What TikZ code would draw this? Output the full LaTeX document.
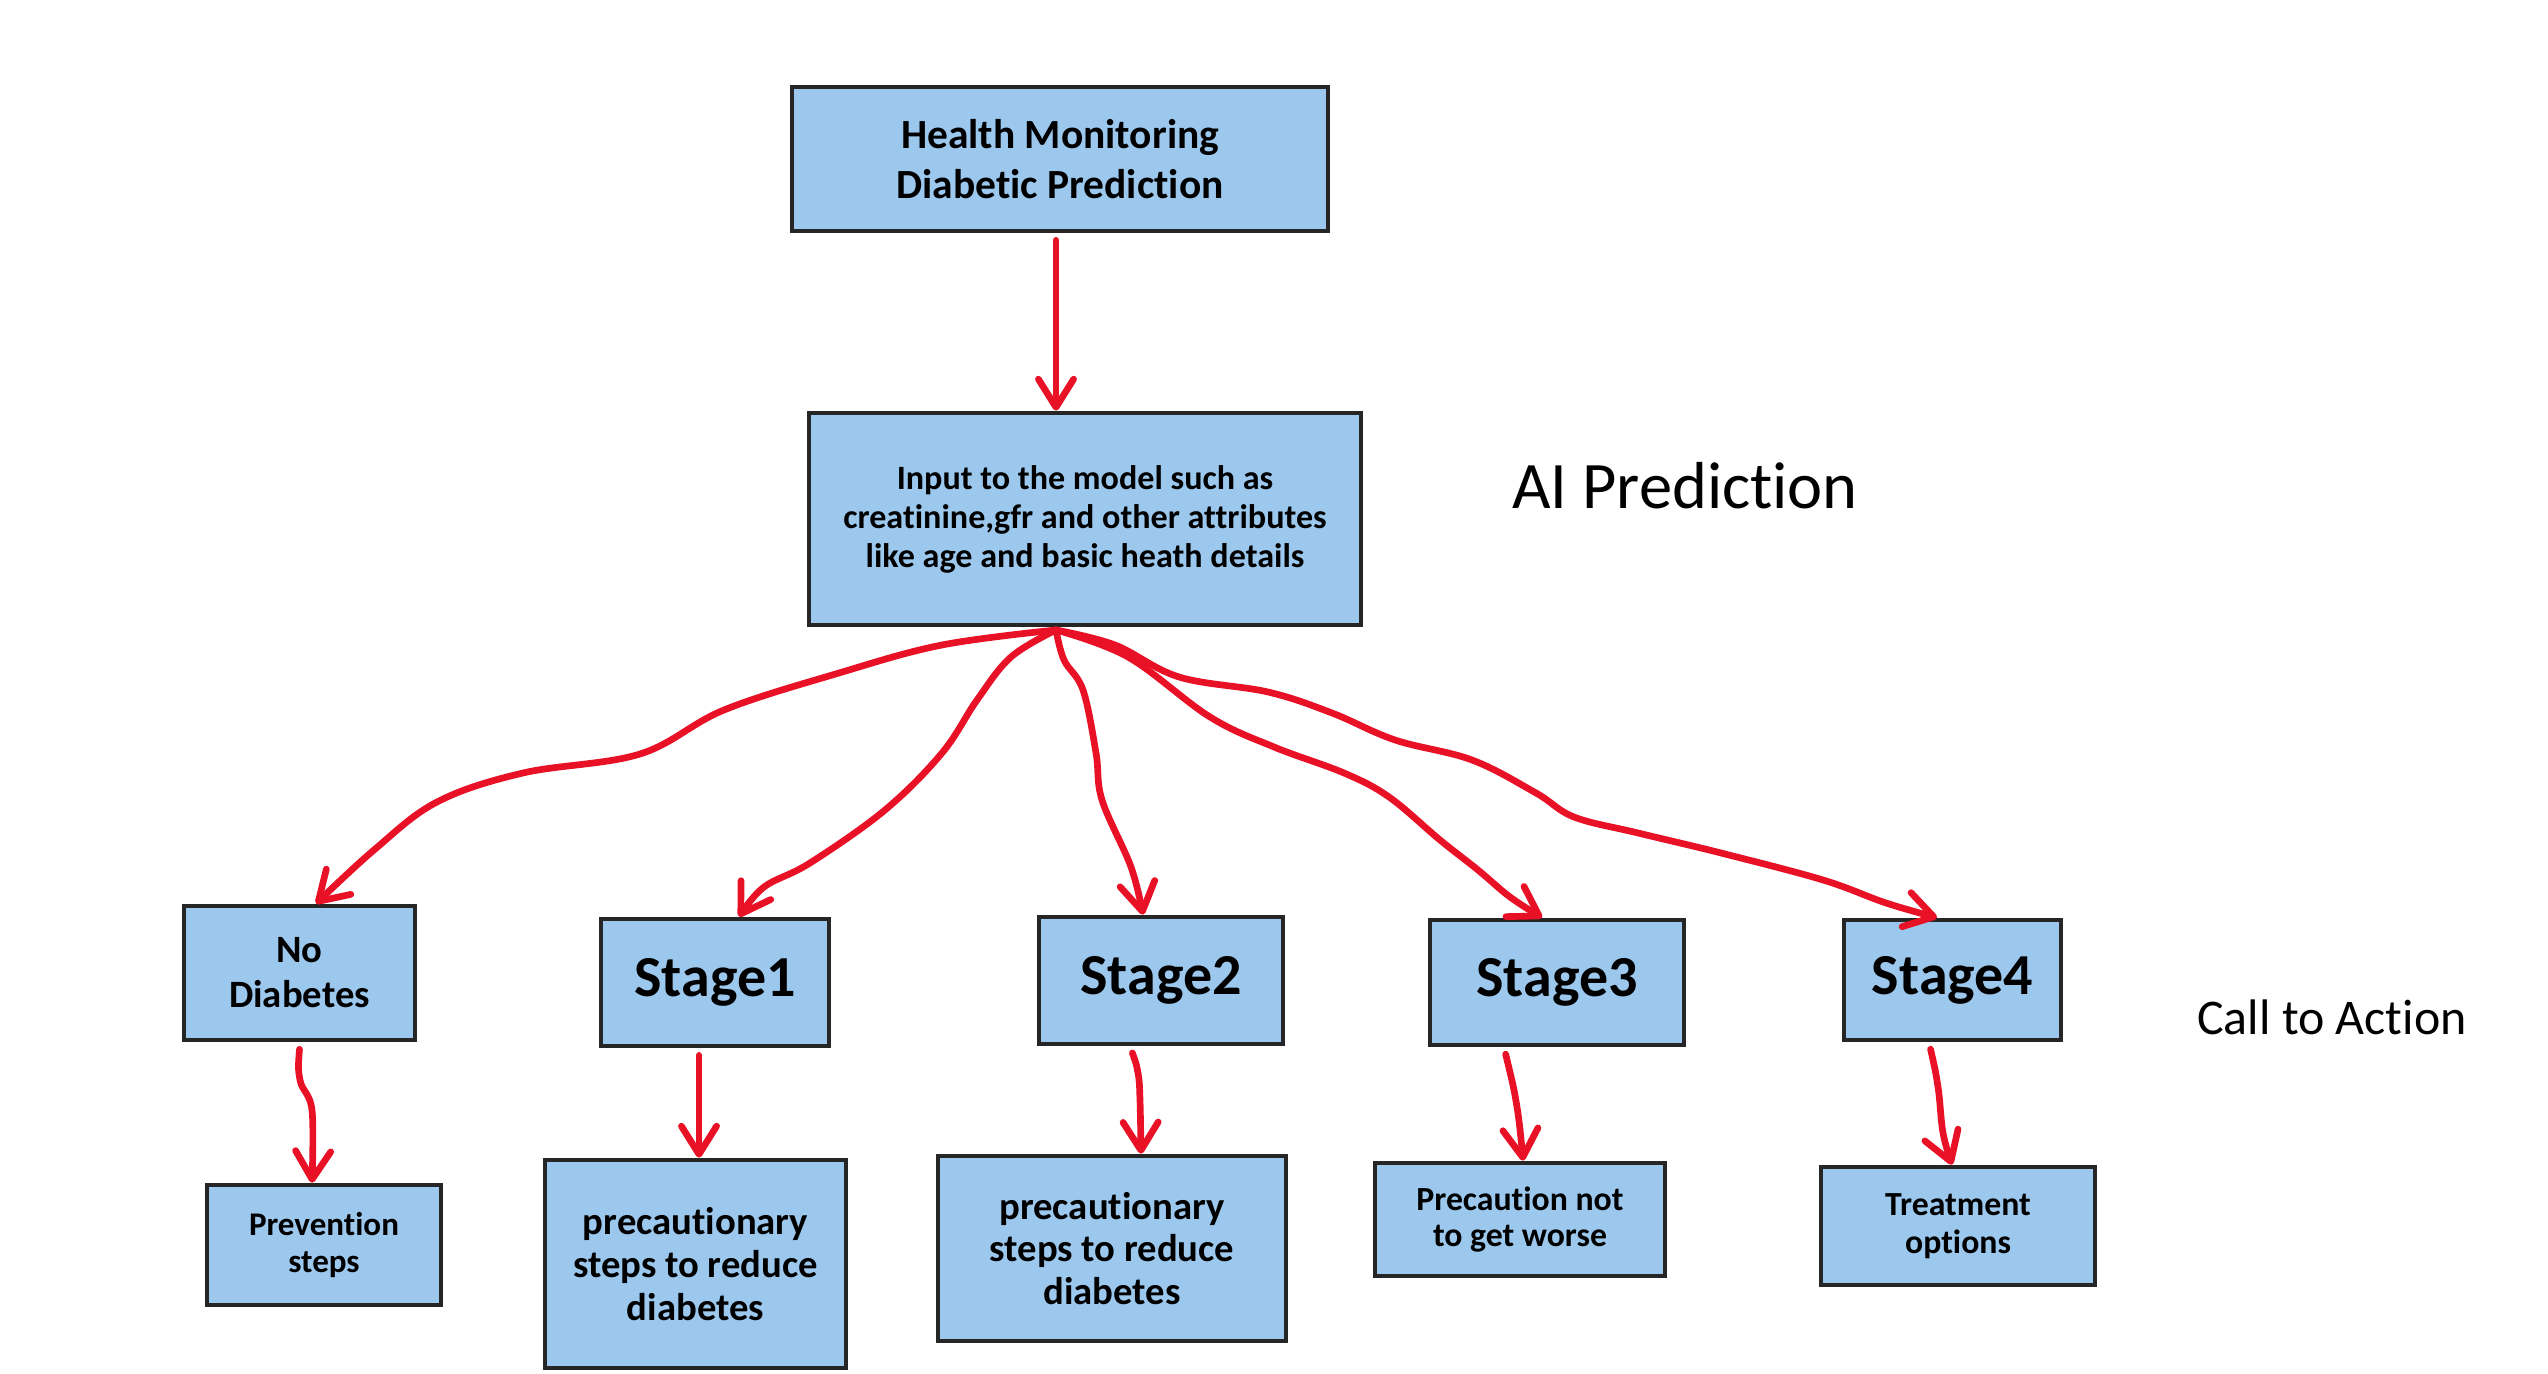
\documentclass[tikz,border=0pt]{standalone}
\usepackage{fontspec}
\setmainfont{Carlito}[Ligatures=NoCommon]
\usetikzlibrary{arrows.meta}
\definecolor{boxfill}{RGB}{156,200,238}
\definecolor{boxline}{RGB}{38,38,38}
\definecolor{inkred}{RGB}{232,17,38}

\begin{document}
\begin{tikzpicture}[x=0.01cm, y=-0.01cm,
  box/.style={draw=boxline, fill=boxfill, line width=1.3pt, align=center, inner sep=0pt},
  stagebox/.style={box, font=\bfseries\fontsize{16.5}{19}\selectfont}]
  \tikzstyle{flow}=[draw=inkred, line width=1.9pt, line cap=round, line join=round, -{Straight Barb[length=8pt,width=10pt,round]}]
  \tikzstyle{drop}=[flow, shorten <=2pt]

\useasboundingbox (0,0) rectangle (2548,1374);

\node [box, minimum width=5.36cm, minimum height=1.44cm, font=\bfseries\fontsize{11.8}{14}\selectfont] (health) at (1060,159) {Health Monitoring\\Diabetic Prediction};
\node [box, minimum width=5.52cm, minimum height=2.12cm, font=\bfseries\fontsize{9.7}{11.1}\selectfont] (input) at (1085,519) {Input to the model such as\\creatinine,gfr and other attributes\\like age and basic heath details};

\node [font=\fontsize{18.9}{22}\selectfont, anchor=base] (ai) at (1685,509) {AI Prediction};
\node [font=\fontsize{14.2}{17}\selectfont, anchor=base] (cta) at (2332,1035) {Call to Action};

% the five outcomes
\node [box, minimum width=2.31cm, minimum height=1.34cm, font=\bfseries\fontsize{11}{12.8}\selectfont] (nodiab) at (299.5,973) {No\\Diabetes};
\node [stagebox, minimum width=2.28cm, minimum height=1.27cm] (stage1) at (715,982.5) {Stage1};
\node [stagebox, minimum width=2.44cm, minimum height=1.27cm] (stage2) at (1161,980.5) {Stage2};
\node [stagebox, minimum width=2.54cm, minimum height=1.25cm] (stage3) at (1557,982.5) {Stage3};
\node [stagebox, minimum width=2.17cm, minimum height=1.20cm] (stage4) at (1952.5,980) {Stage4};

% what to do next
\node [box, minimum width=2.34cm, minimum height=1.20cm, font=\bfseries\fontsize{9.4}{10.8}\selectfont] (prevent) at (324,1245) {Prevention\\steps};
\node [box, minimum width=3.01cm, minimum height=2.08cm, font=\bfseries\fontsize{11}{12.2}\selectfont] (care1) at (695.5,1264) {precautionary\\steps to reduce\\diabetes};
\node [box, minimum width=3.48cm, minimum height=1.85cm, font=\bfseries\fontsize{11}{12.2}\selectfont] (care2) at (1112,1248.5) {precautionary\\steps to reduce\\diabetes};
\node [box, minimum width=2.90cm, minimum height=1.13cm, font=\bfseries\fontsize{9.6}{10.5}\selectfont] (care3) at (1520,1219.5) {Precaution not\\to get worse};
\node [box, minimum width=2.74cm, minimum height=1.18cm, font=\bfseries\fontsize{9.6}{10.8}\selectfont] (treat) at (1958,1226) {Treatment\\options};

\coordinate (hub) at (1056,630);

\draw[drop] (1056,0 |- health.south) -- (1056,0 |- input.north);

\draw[flow] plot[smooth, tension=.6] coordinates {(hub) (942,645) (839,673) (724,710) (640,754) (523,773) (437,802) (374,850) (316,0 |- nodiab.north)};
\draw[flow] plot[smooth, tension=.6] coordinates {(hub) (1011,657) (977,700) (942,753) (885,810) (810,863) (764,887) (739,0 |- stage1.north)};
\draw[flow] plot[smooth, tension=.6] coordinates {(hub) (1064,660) (1083,690) (1096,753) (1102,800) (1131,867) (1143,0 |- stage2.north)};
\draw[flow] plot[smooth, tension=.6] coordinates {(hub) (1128,657) (1210,717) (1274,747) (1344,773) (1389,797) (1440,840) (1478,870) (1510,897) (1542,0 |- stage3.north)};
\draw[flow] plot[smooth, tension=.6] coordinates {(hub) (1115,645) (1179,677) (1268,692) (1332,713) (1395,740) (1472,760) (1536,793) (1574,817) (1638,833) (1721,853) (1823,880) (1886,903) (1937,0 |- stage4.north)};

\draw[drop] plot[smooth, tension=.6] coordinates {(300,0 |- nodiab.south) (300,1080) (312,1110) (312,0 |- prevent.north)};
\draw[drop] (699,0 |- stage1.south) -- (699,0 |- care1.north);
\draw[drop] plot[smooth, tension=.6] coordinates {(1130,0 |- stage2.south) (1138,1073) (1140,1100) (1141,0 |- care2.north)};
\draw[drop] plot[smooth, tension=.6] coordinates {(1504,0 |- stage3.south) (1517,1107) (1523,0 |- care3.north)};
\draw[drop] plot[smooth, tension=.6] coordinates {(1929,0 |- stage4.south) (1938,1087) (1943,1133) (1952,0 |- treat.north)};

\end{tikzpicture}
\end{document}
